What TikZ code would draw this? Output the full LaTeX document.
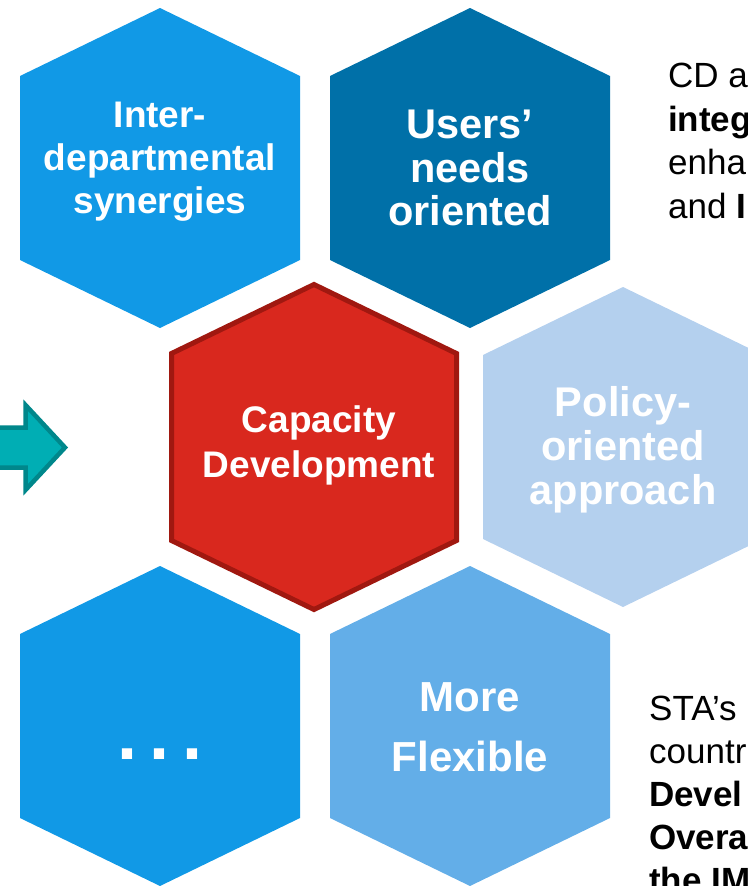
\documentclass[tikz,border=0pt]{standalone}
\usepackage{fontspec}
\setmainfont{Liberation Sans}
\definecolor{hexA}{HTML}{1199E6}
\definecolor{hexB}{HTML}{0070A8}
\definecolor{hexC}{HTML}{B4D0EE}
\definecolor{hexD}{HTML}{63AEE8}
\definecolor{redF}{HTML}{D9281E}
\definecolor{redL}{HTML}{A01810}
\definecolor{arrF}{HTML}{00AEB4}
\definecolor{arrL}{HTML}{00878B}
\begin{document}
\begin{tikzpicture}[x=1pt,y=-1pt,
  hexlabel/.style={text=white,align=center,inner sep=0pt},
  sidetext/.style={anchor=base west,inner sep=0pt,text=black,font=\fontsize{35}{40}\selectfont}]
\useasboundingbox (0,0) rectangle (747,886);
% hexagon centres
\coordinate (hA) at (160,168);
\coordinate (hB) at (470,168);
\coordinate (hR) at (314,447);
\coordinate (hC) at (623,447);
\coordinate (hD) at (160,726);
\coordinate (hE) at (470,726);
\foreach \c/\col in {hA/hexA,hB/hexB,hC/hexC,hD/hexA,hE/hexD}{
  \fill[\col,shift={(\c)}] (0,-160) -- (140,-92) -- (140,92) -- (0,160) -- (-140,92) -- (-140,-92) -- cycle;
}
\draw[redL,fill=redF,line width=5pt,line join=miter,shift={(hR)}]
  (0,-162.5) -- (142.5,-93.5) -- (142.5,93.5) -- (0,162.5) -- (-142.5,93.5) -- (-142.5,-93.5) -- cycle;
% arrow
\draw[arrL,fill=arrF,line width=4.5pt,line join=miter]
  (-10,427.5) -- (25.5,427.5) -- (25.5,405) -- (65,447.5) -- (25.5,490) -- (25.5,467.5) -- (-10,467.5) -- cycle;
% labels
\node[hexlabel,font=\fontsize{37}{43}\selectfont\bfseries] (tA) at (160,162) {Inter-\\departmental\\synergies};
\node[hexlabel,font=\fontsize{41.5}{43.5}\selectfont\bfseries] (tB) at (470,168) {Users’\\needs\\oriented};
\node[hexlabel,font=\fontsize{37}{45}\selectfont\bfseries] (tR) at (319,445) {Capacity\\Development};
\node[hexlabel,font=\fontsize{41.5}{44}\selectfont\bfseries] (tC) at (623,450) {Policy-\\oriented\\approach};
\node[hexlabel,font=\fontsize{72}{72}\selectfont\bfseries] (tD) at (160,754) {.\hspace{12pt}.\hspace{12pt}.};
\node[hexlabel,font=\fontsize{42}{60}\selectfont\bfseries] (tE) at (470,727) {More\\Flexible};
% side texts
\node[sidetext] (r1) at (668,87) {CD a};
\node[sidetext] (r2) at (668,131) {\bfseries integ};
\node[sidetext] (r3) at (668,174) {enha};
\node[sidetext] (r4) at (668,218) {and \textbf{I}};
\node[sidetext] (s1) at (649,720) {STA’s};
\node[sidetext] (s2) at (649,763) {countr};
\node[sidetext] (s3) at (649,806) {\bfseries Devel};
\node[sidetext] (s4) at (649,849) {\bfseries Overa};
\node[sidetext] (s5) at (649,892) {\bfseries the IM};
\end{tikzpicture}
\end{document}
